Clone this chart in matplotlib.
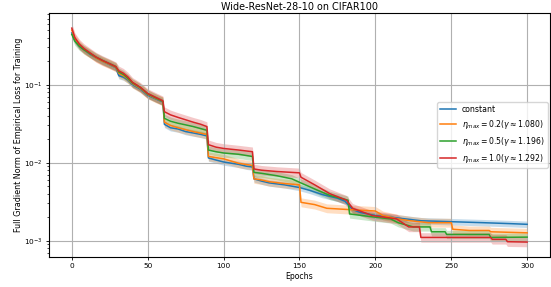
import numpy as np
import matplotlib
matplotlib.use("Agg")
import matplotlib.pyplot as plt

# breakpoints (epoch, gradient norm)
const_epochs = [0, 2, 5, 8, 12, 16, 20, 25, 29, 31, 34, 37, 40, 45, 50, 55, 60, 61, 65, 70, 75, 80, 85,
                89, 90, 95, 100, 110, 115, 119, 120, 125, 130, 140, 150, 157, 165, 175, 180, 185, 190,
                200, 210, 220, 230, 271, 290, 300]
const_vals = [0.46, 0.37, 0.31, 0.28, 0.245, 0.22, 0.2, 0.18, 0.165, 0.13, 0.125, 0.115, 0.1, 0.088,
              0.073, 0.066, 0.06, 0.031, 0.028, 0.027, 0.025, 0.024, 0.023, 0.022, 0.0115, 0.0108,
              0.0102, 0.0095, 0.009, 0.0088, 0.0062, 0.0058, 0.0055, 0.0052, 0.0048, 0.0044, 0.0039,
              0.0035, 0.0032, 0.0025, 0.0023, 0.0021, 0.002, 0.0019, 0.0018, 0.0017, 0.00165, 0.00162]

eta02_epochs = [0, 2, 5, 8, 12, 16, 20, 25, 29, 31, 34, 37, 40, 45, 50, 55, 60, 61, 65, 70, 80, 89,
                90, 95, 100, 110, 119, 120, 125, 130, 140, 150, 151, 160, 168, 183, 200, 205, 215, 223,
                235, 250, 251, 262, 275, 276, 300]
eta02_vals = [0.50, 0.39, 0.32, 0.28, 0.25, 0.22, 0.2, 0.182, 0.167, 0.14, 0.13, 0.118, 0.103, 0.09,
              0.075, 0.067, 0.061, 0.033, 0.03, 0.028, 0.025, 0.023, 0.012, 0.0116, 0.0112, 0.0098,
              0.0092, 0.0062, 0.006, 0.0057, 0.0054, 0.0052, 0.0031, 0.0029, 0.0026, 0.0025, 0.0024,
              0.0021, 0.0019, 0.0018, 0.0017, 0.0017, 0.0014, 0.00135, 0.00135, 0.0013, 0.00126]

eta05_epochs = [0, 2, 5, 8, 12, 16, 20, 25, 29, 31, 34, 37, 40, 45, 50, 55, 60, 61, 65, 70, 80, 89,
                90, 95, 100, 110, 119, 120, 125, 135, 145, 150, 160, 170, 182, 183, 200, 210, 215, 225,
                236, 237, 246, 247, 275, 276, 300]
eta05_vals = [0.44, 0.36, 0.31, 0.28, 0.25, 0.225, 0.205, 0.185, 0.17, 0.145, 0.135, 0.12, 0.105,
              0.092, 0.076, 0.068, 0.061, 0.037, 0.034, 0.032, 0.029, 0.026, 0.0145, 0.0138, 0.0133,
              0.0128, 0.012, 0.0075, 0.0073, 0.0068, 0.0062, 0.0056, 0.0046, 0.0038, 0.0033, 0.0022,
              0.002, 0.0019, 0.0017, 0.0015, 0.0015, 0.0013, 0.0013, 0.0012, 0.0012, 0.0011, 0.00111]

eta10_epochs = [0, 2, 5, 8, 12, 16, 20, 25, 29, 31, 34, 37, 40, 45, 50, 55, 60, 61, 65, 70, 80, 85,
                89, 90, 95, 100, 110, 119, 120, 125, 135, 150, 151, 160, 170, 181, 185, 198, 214, 222,
                229, 230, 276, 277, 286, 287, 300]
eta10_vals = [0.53, 0.40, 0.33, 0.29, 0.255, 0.225, 0.205, 0.185, 0.17, 0.15, 0.14, 0.125, 0.107,
              0.093, 0.077, 0.069, 0.062, 0.045, 0.041, 0.038, 0.033, 0.031, 0.029, 0.017, 0.0158,
              0.0152, 0.0145, 0.0138, 0.0083, 0.008, 0.0077, 0.0074, 0.0065, 0.0052, 0.004, 0.0033,
              0.0026, 0.0021, 0.0019, 0.0015, 0.0015, 0.0011, 0.0011, 0.00104, 0.00104, 0.00097, 0.00096]

labels = ["constant",
          r"$\eta_{max} = 0.2(\gamma \approx 1.080)$",
          r"$\eta_{max} = 0.5(\gamma \approx 1.196)$",
          r"$\eta_{max} = 1.0(\gamma \approx 1.292)$"]
band = [1.10, 1.14, 1.13, 1.15]  # relative width of the shaded spread
colors = ["#1f77b4", "#ff7f0e", "#2ca02c", "#d62728"]

series = [(const_epochs, const_vals), (eta02_epochs, eta02_vals),
          (eta05_epochs, eta05_vals), (eta10_epochs, eta10_vals)]

fig = plt.figure(figsize=(5.51, 2.87), dpi=100)
ax = fig.add_axes([0.089, 0.105, 0.909, 0.850])

for (ep, val), lab, b, c in zip(series, labels, band, colors):
    ep = np.array(ep)
    val = np.array(val)
    ax.fill_between(ep, val / b, val * b, color=c, alpha=0.25, linewidth=0)
    ax.plot(ep, val, color=c, lw=1.1, label=lab)

ax.set_yscale("log")
ax.set_xlim(-15, 315)
ax.set_ylim(6.2e-4, 0.83)
ax.grid(True, which="major", color="#b0b0b0", lw=0.8)
ax.tick_params(labelsize=5.3, length=2.5, width=0.6, pad=2)
ax.tick_params(which="minor", length=1.4, width=0.5)
for s in ax.spines.values():
    s.set_linewidth(0.8)
ax.set_xlabel("Epochs", fontsize=5.6, labelpad=2)
ax.set_ylabel("Full Gradient Norm of Empirical Loss for Training", fontsize=5.8, labelpad=1)
ax.set_title("Wide-ResNet-28-10 on CIFAR100", fontsize=6.9, pad=2)
ax.legend(loc="center right", fontsize=5.6, handlelength=2.0, borderaxespad=0.3)

fig.savefig("out.png", dpi=100)
